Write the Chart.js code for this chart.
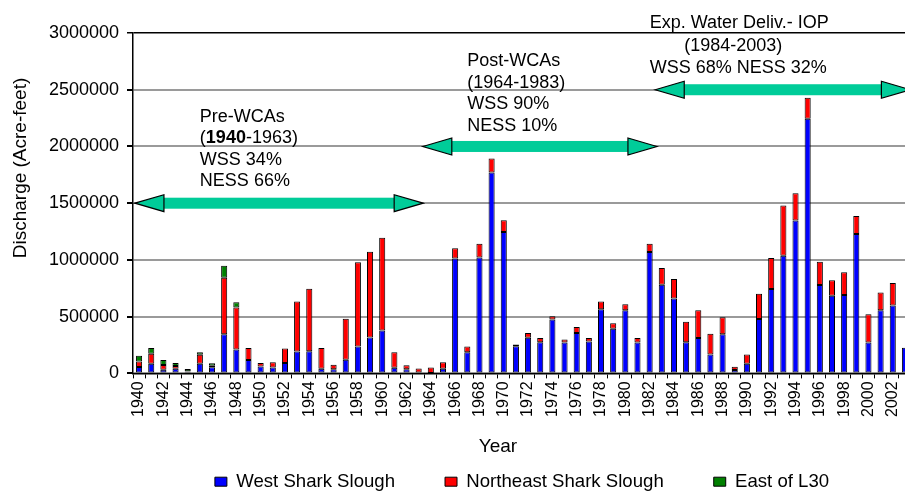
<!DOCTYPE html>
<html>
<head>
<meta charset="utf-8">
<script src="https://cdn.jsdelivr.net/npm/chart.js@4.4.0/dist/chart.umd.min.js"></script>
<style>
html, body { margin: 0; padding: 0; background: #fff; overflow: hidden; }
#wrap { width: 912px; height: 491px; position: relative; }
</style>
</head>
<body>
<div id="wrap"><canvas id="myChart"></canvas></div>
<script>
// Years on the x axis (1940-2003)
const years = ['1940','1941','1942','1943','1944','1945','1946','1947','1948','1949',
  '1950','1951','1952','1953','1954','1955','1956','1957','1958','1959',
  '1960','1961','1962','1963','1964','1965','1966','1967','1968','1969',
  '1970','1971','1972','1973','1974','1975','1976','1977','1978','1979',
  '1980','1981','1982','1983','1984','1985','1986','1987','1988','1989',
  '1990','1991','1992','1993','1994','1995','1996','1997','1998','1999',
  '2000','2001','2002','2003'];

// Discharge in acre-feet
const westSharkSlough = [57000, 86000, 33000, 42000, 15000, 86000, 54000, 345000, 211000, 119000,
  60000, 51000, 92000, 193000, 195000, 41000, 36000, 121000, 237000, 317000,
  379000, 50000, 36000, null, 3000, 41000, 1012000, 186000, 1021000, 1770000,
  1246000, 240000, 314000, 275000, 474000, 272000, 355000, 281000, 565000, 394000,
  556000, 272000, 1069000, 781000, 660000, 275000, 311000, 166000, 346000, 30000,
  86000, 480000, 743000, 1036000, 1347000, 2244000, 778000, 684000, 690000, 1228000,
  272000, 556000, 598000, 225000];

const northeastSharkSlough = [47000, 87000, 41000, 23000, 5000, 78000, 14000, 497000, 369000, 104000,
  32000, 47000, 128000, 441000, 550000, 182000, 41000, 361000, 743000, 755000,
  817000, 136000, 35000, 44000, 50000, 57000, 92000, 51000, 122000, 124000,
  104000, 15000, 41000, 36000, 29000, 27000, 53000, 30000, 68000, 47000,
  54000, 39000, 74000, 148000, 172000, 181000, 245000, 183000, 148000, 29000,
  80000, 222000, 275000, 444000, 240000, 186000, 205000, 136000, 201000, 160000,
  249000, 157000, 198000, null];

const eastOfL30 = [51000, 50000, 45000, 27000, 19000, 23000, 21000, 107000, 48000, null,
  null, null, null, null, null, null, null, null, null, null,
  null, null, null, null, null, null, null, null, null, null,
  null, null, null, null, null, null, null, null, null, null,
  null, null, null, null, null, null, null, null, null, null,
  null, null, null, null, null, null, null, null, null, null,
  null, null, null, null];

// Management periods: double arrows (year span, level) and their notes
const periodArrows = [
  { from: 1939.66, to: 1963.37, value: 1500000 },
  { from: 1963.34, to: 1982.6, value: 2000000 },
  { from: 1982.46, to: 2003.45, value: 2500000 }
];
const periodNotes = [
  { year: 1945, value: 2220000, lines: ['Pre-WCAs', '(*1940*-1963)', 'WSS 34%', 'NESS 66%'] },
  { year: 1967, value: 2708000, lines: ['Post-WCAs', '(1964-1983)', 'WSS 90%', 'NESS 10%'] },
  { year: 1982, value: 3044000, lines: ['Exp. Water Deliv.- IOP'] },
  { year: 1984.85, value: 2841000, lines: ['(1984-2003)'] },
  { year: 1982, value: 2646000, lines: ['WSS 68% NESS 32%'] }
];

const FONT = "'Liberation Sans', Arial, Helvetica, sans-serif";
Chart.defaults.font.family = FONT;
Chart.defaults.color = '#000';

// draws the period arrows and texts on top of the bars
const periodPlugin = {
  id: 'periods',
  afterDatasetsDraw(chart) {
    const ctx = chart.ctx;
    const xs = chart.scales.x, ys = chart.scales.y;
    const head = 29, half = 8.5, shaft = 5.5;
    ctx.save();
    periodArrows.forEach(a => {
      const x1 = xs.getPixelForValue(a.from - 1940);
      const x2 = xs.getPixelForValue(a.to - 1940);
      const y = ys.getPixelForValue(a.value);
      ctx.fillStyle = '#00cc99';
      ctx.fillRect(x1 + head, y - shaft, x2 - x1 - 2 * head, shaft * 2);
      ctx.strokeStyle = '#000';
      ctx.lineWidth = 1.2;
      ctx.beginPath();
      ctx.moveTo(x1, y); ctx.lineTo(x1 + head, y - half); ctx.lineTo(x1 + head, y + half); ctx.closePath();
      ctx.fill(); ctx.stroke();
      ctx.beginPath();
      ctx.moveTo(x2, y); ctx.lineTo(x2 - head, y - half); ctx.lineTo(x2 - head, y + half); ctx.closePath();
      ctx.fill(); ctx.stroke();
    });
    ctx.fillStyle = '#000';
    ctx.textAlign = 'left';
    ctx.textBaseline = 'alphabetic';
    periodNotes.forEach(n => {
      const x = xs.getPixelForValue(n.year - 1940);
      let y = ys.getPixelForValue(n.value);
      n.lines.forEach(line => {
        let cx = x;
        line.split('*').forEach((part, i) => {
          ctx.font = (i % 2 ? 'bold ' : '') + '18px ' + FONT;
          ctx.fillText(part, cx, y);
          cx += ctx.measureText(part).width;
        });
        y += 21.5;
      });
    });
    ctx.restore();
  },
  afterDraw(chart) {
    const ctx = chart.ctx;
    ctx.save();
    ctx.fillStyle = '#000';
    ctx.font = '19px ' + FONT;
    ctx.textAlign = 'center';
    ctx.textBaseline = 'alphabetic';
    ctx.fillText('Year', 498, 452);
    ctx.translate(25.5, 168);
    ctx.rotate(-Math.PI / 2);
    ctx.fillText('Discharge (Acre-feet)', 0, 0);
    ctx.restore();
  }
};

new Chart(document.getElementById('myChart'), {
  type: 'bar',
  data: {
    labels: years,
    datasets: [
      { label: 'West Shark Slough', data: westSharkSlough, backgroundColor: '#0000ff' },
      { label: 'Northeast Shark Slough', data: northeastSharkSlough, backgroundColor: '#ff0000' },
      { label: 'East of L30', data: eastOfL30, backgroundColor: '#008000' }
    ].map(d => Object.assign(d, {
      borderColor: '#000', borderWidth: 1, borderSkipped: false,
      barPercentage: 0.5, categoryPercentage: 1.0
    }))
  },
  options: {
    responsive: true,
    maintainAspectRatio: false,
    animation: false,
    layout: { padding: { top: 33, right: 1, bottom: -10, left: 0 } },
    plugins: {
      legend: {
        position: 'bottom',
        fullSize: false,
        labels: { boxWidth: 12, boxHeight: 9, padding: 50, color: '#000', font: { size: 18.6 } }
      },
      tooltip: { enabled: false }
    },
    scales: {
      x: {
        stacked: true,
        grid: { offset: true, drawOnChartArea: false, tickLength: 5, tickColor: '#000', color: '#000' },
        border: { color: '#000', width: 1.5 },
        ticks: {
          autoSkip: false, minRotation: 90, maxRotation: 90, padding: 3,
          color: '#000', font: { size: 16 },
          callback: (v, i) => (i % 2 === 0 ? years[i] : '')
        },
        afterFit: s => { s.height = 49; s.paddingLeft = 0; s.paddingRight = 0; }
      },
      y: {
        stacked: true,
        min: 0,
        max: 3000000,
        ticks: { stepSize: 500000, padding: 8, color: '#000', font: { size: 18 }, callback: v => String(v) },
        grid: {
          color: c => (c.tick && c.tick.value === 3000000 ? '#000' : '#9a9a9a'),
          lineWidth: c => (c.tick && c.tick.value === 3000000 ? 1.5 : 2),
          tickColor: '#000',
          tickLength: 6
        },
        border: { color: '#000', width: 1.5 },
        afterFit: s => { s.width = 133; }
      }
    }
  },
  plugins: [periodPlugin]
});
</script>
</body>
</html>
